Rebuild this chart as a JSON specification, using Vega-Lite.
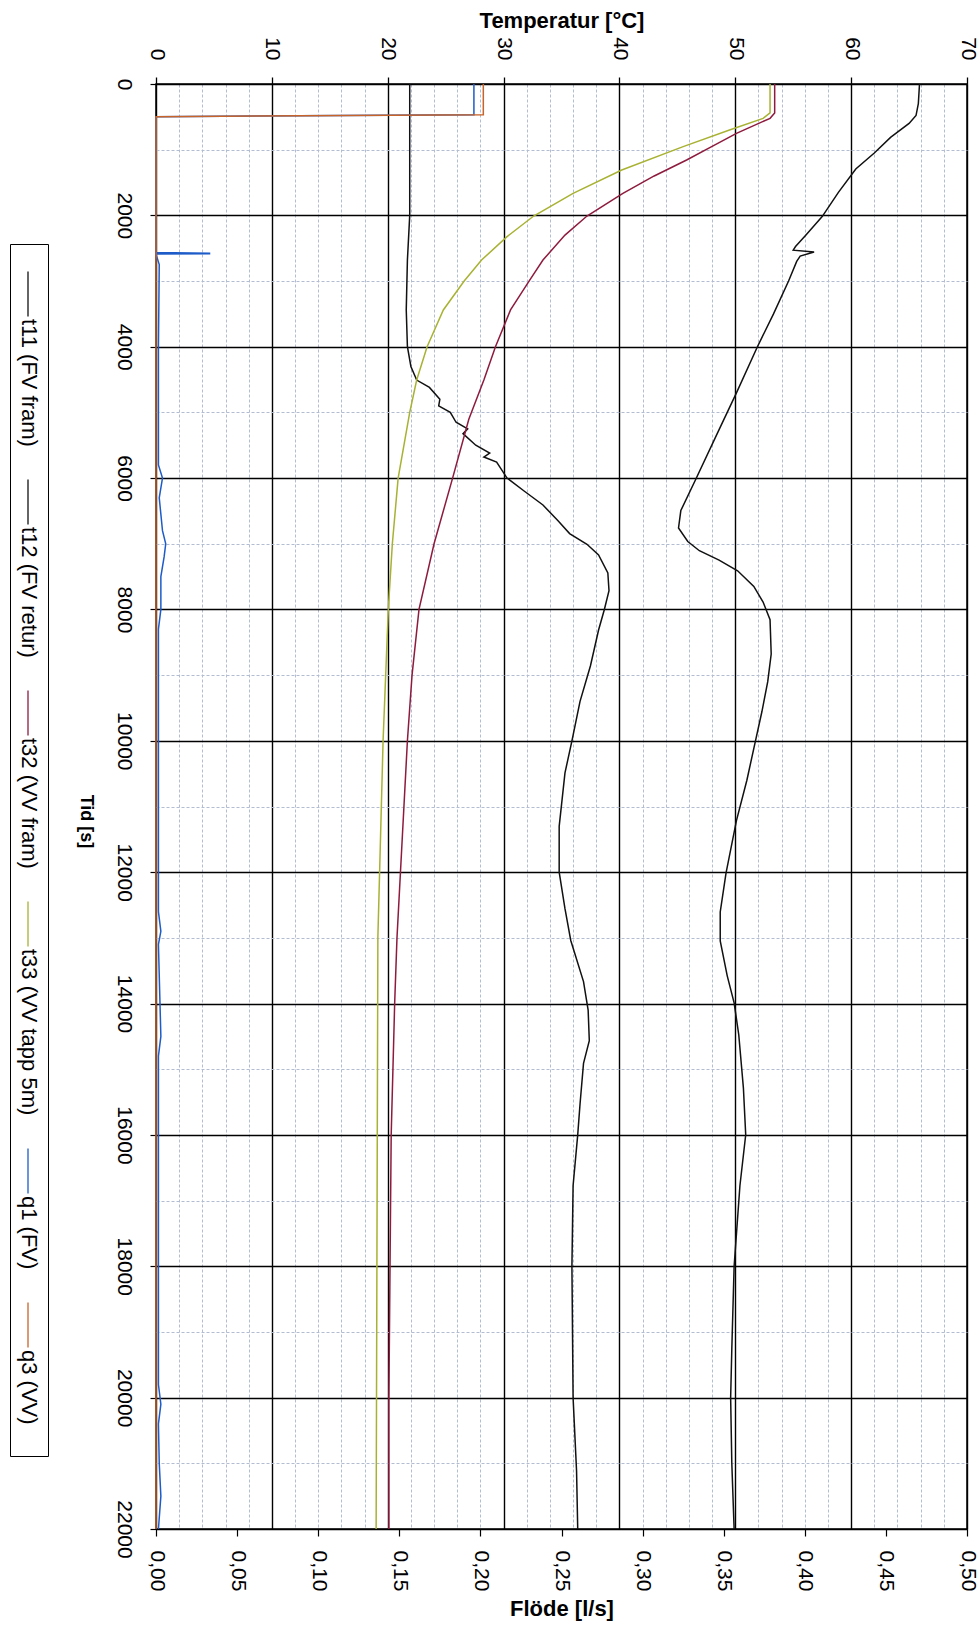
{
  "$schema": "https://vega.github.io/schema/vega-lite/v6.json",
  "width": 811,
  "height": 1445,
  "autosize": {"type": "none"},
  "padding": {"left": 156, "top": 84, "right": 13, "bottom": 97},
  "background": "white",
  "config": {
    "font": "Liberation Sans",
    "view": {"stroke": "black", "strokeWidth": 1.5},
    "axis": {"domain": false, "labelFont": "Liberation Sans", "titleFont": "Liberation Sans", "labelColor": "black", "titleColor": "black", "tickColor": "black", "labelOverlap": false, "labelBound": false, "labelFlush": false}
  },
  "datasets": {
    "temp": [
      {"k":"t11 (FV fram)","t":0,"v":65.9},{"k":"t11 (FV fram)","t":300,"v":65.8},{"k":"t11 (FV fram)","t":480,"v":65.6},{"k":"t11 (FV fram)","t":600,"v":65.0},{"k":"t11 (FV fram)","t":813,"v":63.4},{"k":"t11 (FV fram)","t":1050,"v":62.0},{"k":"t11 (FV fram)","t":1294,"v":60.4},{"k":"t11 (FV fram)","t":1650,"v":58.9},{"k":"t11 (FV fram)","t":2019,"v":57.5},{"k":"t11 (FV fram)","t":2300,"v":56.1},{"k":"t11 (FV fram)","t":2474,"v":55.2},{"k":"t11 (FV fram)","t":2530,"v":55.0},{"k":"t11 (FV fram)","t":2558,"v":56.8},{"k":"t11 (FV fram)","t":2620,"v":55.6},{"k":"t11 (FV fram)","t":2700,"v":55.3},{"k":"t11 (FV fram)","t":3000,"v":54.6},{"k":"t11 (FV fram)","t":3500,"v":53.3},{"k":"t11 (FV fram)","t":4004,"v":51.9},{"k":"t11 (FV fram)","t":4703,"v":50.1},{"k":"t11 (FV fram)","t":5300,"v":48.5},{"k":"t11 (FV fram)","t":6014,"v":46.6},{"k":"t11 (FV fram)","t":6494,"v":45.3},{"k":"t11 (FV fram)","t":6760,"v":45.1},{"k":"t11 (FV fram)","t":6965,"v":45.9},{"k":"t11 (FV fram)","t":7106,"v":46.9},{"k":"t11 (FV fram)","t":7250,"v":48.6},{"k":"t11 (FV fram)","t":7412,"v":50.2},{"k":"t11 (FV fram)","t":7650,"v":51.6},{"k":"t11 (FV fram)","t":7887,"v":52.4},{"k":"t11 (FV fram)","t":8155,"v":53.0},{"k":"t11 (FV fram)","t":8678,"v":53.1},{"k":"t11 (FV fram)","t":9100,"v":52.8},{"k":"t11 (FV fram)","t":9554,"v":52.3},{"k":"t11 (FV fram)","t":10034,"v":51.7},{"k":"t11 (FV fram)","t":10600,"v":51.0},{"k":"t11 (FV fram)","t":11214,"v":50.1},{"k":"t11 (FV fram)","t":12013,"v":49.2},{"k":"t11 (FV fram)","t":12606,"v":48.7},{"k":"t11 (FV fram)","t":13045,"v":48.7},{"k":"t11 (FV fram)","t":13574,"v":49.3},{"k":"t11 (FV fram)","t":13990,"v":49.9},{"k":"t11 (FV fram)","t":14475,"v":50.3},{"k":"t11 (FV fram)","t":15283,"v":50.7},{"k":"t11 (FV fram)","t":15997,"v":50.9},{"k":"t11 (FV fram)","t":16774,"v":50.4},{"k":"t11 (FV fram)","t":17999,"v":49.9},{"k":"t11 (FV fram)","t":19260,"v":49.7},{"k":"t11 (FV fram)","t":20006,"v":49.6},{"k":"t11 (FV fram)","t":21000,"v":49.7},{"k":"t11 (FV fram)","t":22000,"v":49.9},
      {"k":"t12 (FV retur)","t":0,"v":21.9},{"k":"t12 (FV retur)","t":1000,"v":21.9},{"k":"t12 (FV retur)","t":2000,"v":21.9},{"k":"t12 (FV retur)","t":2680,"v":21.7},{"k":"t12 (FV retur)","t":3440,"v":21.6},{"k":"t12 (FV retur)","t":4000,"v":21.7},{"k":"t12 (FV retur)","t":4300,"v":22.0},{"k":"t12 (FV retur)","t":4507,"v":22.5},{"k":"t12 (FV retur)","t":4620,"v":23.6},{"k":"t12 (FV retur)","t":4800,"v":24.5},{"k":"t12 (FV retur)","t":4900,"v":24.4},{"k":"t12 (FV retur)","t":5000,"v":25.4},{"k":"t12 (FV retur)","t":5150,"v":25.9},{"k":"t12 (FV retur)","t":5250,"v":26.9},{"k":"t12 (FV retur)","t":5323,"v":26.5},{"k":"t12 (FV retur)","t":5500,"v":27.6},{"k":"t12 (FV retur)","t":5620,"v":28.8},{"k":"t12 (FV retur)","t":5680,"v":28.3},{"k":"t12 (FV retur)","t":5755,"v":29.4},{"k":"t12 (FV retur)","t":6000,"v":30.3},{"k":"t12 (FV retur)","t":6200,"v":31.8},{"k":"t12 (FV retur)","t":6410,"v":33.4},{"k":"t12 (FV retur)","t":6650,"v":34.7},{"k":"t12 (FV retur)","t":6845,"v":35.7},{"k":"t12 (FV retur)","t":7008,"v":37.2},{"k":"t12 (FV retur)","t":7171,"v":38.2},{"k":"t12 (FV retur)","t":7443,"v":39.0},{"k":"t12 (FV retur)","t":7715,"v":39.1},{"k":"t12 (FV retur)","t":8000,"v":38.7},{"k":"t12 (FV retur)","t":8313,"v":38.2},{"k":"t12 (FV retur)","t":8857,"v":37.5},{"k":"t12 (FV retur)","t":9400,"v":36.6},{"k":"t12 (FV retur)","t":10000,"v":35.9},{"k":"t12 (FV retur)","t":10488,"v":35.3},{"k":"t12 (FV retur)","t":11303,"v":34.8},{"k":"t12 (FV retur)","t":12000,"v":34.8},{"k":"t12 (FV retur)","t":12555,"v":35.3},{"k":"t12 (FV retur)","t":13040,"v":35.8},{"k":"t12 (FV retur)","t":13666,"v":36.9},{"k":"t12 (FV retur)","t":14100,"v":37.3},{"k":"t12 (FV retur)","t":14567,"v":37.4},{"k":"t12 (FV retur)","t":14910,"v":36.9},{"k":"t12 (FV retur)","t":15530,"v":36.6},{"k":"t12 (FV retur)","t":16000,"v":36.4},{"k":"t12 (FV retur)","t":16774,"v":36.0},{"k":"t12 (FV retur)","t":18000,"v":35.9},{"k":"t12 (FV retur)","t":20000,"v":36.0},{"k":"t12 (FV retur)","t":21117,"v":36.3},{"k":"t12 (FV retur)","t":22000,"v":36.4},
      {"k":"t32 (VV fram)","t":0,"v":53.4},{"k":"t32 (VV fram)","t":440,"v":53.4},{"k":"t32 (VV fram)","t":523,"v":53.0},{"k":"t32 (VV fram)","t":751,"v":50.1},{"k":"t32 (VV fram)","t":950,"v":48.0},{"k":"t32 (VV fram)","t":1157,"v":45.8},{"k":"t32 (VV fram)","t":1400,"v":43.0},{"k":"t32 (VV fram)","t":1665,"v":40.3},{"k":"t32 (VV fram)","t":2010,"v":37.2},{"k":"t32 (VV fram)","t":2300,"v":35.3},{"k":"t32 (VV fram)","t":2680,"v":33.4},{"k":"t32 (VV fram)","t":3000,"v":32.2},{"k":"t32 (VV fram)","t":3440,"v":30.6},{"k":"t32 (VV fram)","t":4000,"v":29.3},{"k":"t32 (VV fram)","t":4507,"v":28.3},{"k":"t32 (VV fram)","t":5105,"v":27.0},{"k":"t32 (VV fram)","t":6000,"v":25.6},{"k":"t32 (VV fram)","t":7000,"v":24.0},{"k":"t32 (VV fram)","t":8000,"v":22.7},{"k":"t32 (VV fram)","t":9000,"v":22.1},{"k":"t32 (VV fram)","t":10000,"v":21.7},{"k":"t32 (VV fram)","t":11000,"v":21.4},{"k":"t32 (VV fram)","t":12000,"v":21.1},{"k":"t32 (VV fram)","t":13000,"v":20.8},{"k":"t32 (VV fram)","t":14000,"v":20.6},{"k":"t32 (VV fram)","t":16000,"v":20.3},{"k":"t32 (VV fram)","t":18000,"v":20.2},{"k":"t32 (VV fram)","t":20000,"v":20.1},{"k":"t32 (VV fram)","t":22000,"v":20.1},
      {"k":"t33 (VV tapp 5m)","t":0,"v":53.0},{"k":"t33 (VV tapp 5m)","t":440,"v":53.0},{"k":"t33 (VV tapp 5m)","t":523,"v":52.4},{"k":"t33 (VV tapp 5m)","t":700,"v":49.5},{"k":"t33 (VV tapp 5m)","t":954,"v":45.5},{"k":"t33 (VV tapp 5m)","t":1309,"v":40.2},{"k":"t33 (VV tapp 5m)","t":1665,"v":36.0},{"k":"t33 (VV tapp 5m)","t":2010,"v":32.6},{"k":"t33 (VV tapp 5m)","t":2324,"v":30.3},{"k":"t33 (VV tapp 5m)","t":2680,"v":28.1},{"k":"t33 (VV tapp 5m)","t":3000,"v":26.6},{"k":"t33 (VV tapp 5m)","t":3440,"v":24.8},{"k":"t33 (VV tapp 5m)","t":4000,"v":23.4},{"k":"t33 (VV tapp 5m)","t":4507,"v":22.5},{"k":"t33 (VV tapp 5m)","t":5000,"v":21.9},{"k":"t33 (VV tapp 5m)","t":6000,"v":20.9},{"k":"t33 (VV tapp 5m)","t":7000,"v":20.4},{"k":"t33 (VV tapp 5m)","t":8000,"v":20.05},{"k":"t33 (VV tapp 5m)","t":10000,"v":19.6},{"k":"t33 (VV tapp 5m)","t":12000,"v":19.3},{"k":"t33 (VV tapp 5m)","t":13000,"v":19.15},{"k":"t33 (VV tapp 5m)","t":16000,"v":19.1},{"k":"t33 (VV tapp 5m)","t":22000,"v":19.0}
    ],
    "flow": [
      {"k":"q1 (FV)","t":0,"v":0.196},{"k":"q1 (FV)","t":470,"v":0.196},{"k":"q1 (FV)","t":497,"v":0},{"k":"q1 (FV)","t":2565,"v":0},{"k":"q1 (FV)","t":2575,"v":0.033},{"k":"q1 (FV)","t":2583,"v":0.033},{"k":"q1 (FV)","t":2590,"v":0},{"k":"q1 (FV)","t":2750,"v":0.002},{"k":"q1 (FV)","t":4000,"v":0.0015},{"k":"q1 (FV)","t":5800,"v":0.0015},{"k":"q1 (FV)","t":6000,"v":0.004},{"k":"q1 (FV)","t":6300,"v":0.002},{"k":"q1 (FV)","t":6800,"v":0.004},{"k":"q1 (FV)","t":7000,"v":0.006},{"k":"q1 (FV)","t":7200,"v":0.005},{"k":"q1 (FV)","t":7500,"v":0.003},{"k":"q1 (FV)","t":8000,"v":0.003},{"k":"q1 (FV)","t":8300,"v":0.0015},{"k":"q1 (FV)","t":12600,"v":0.0015},{"k":"q1 (FV)","t":12900,"v":0.003},{"k":"q1 (FV)","t":13100,"v":0.0015},{"k":"q1 (FV)","t":14500,"v":0.003},{"k":"q1 (FV)","t":14800,"v":0.0015},{"k":"q1 (FV)","t":19800,"v":0.0015},{"k":"q1 (FV)","t":20100,"v":0.003},{"k":"q1 (FV)","t":20400,"v":0.0015},{"k":"q1 (FV)","t":21000,"v":0.002},{"k":"q1 (FV)","t":21500,"v":0.003},{"k":"q1 (FV)","t":22000,"v":0.0015},
      {"k":"q3 (VV)","t":0,"v":0.2018},{"k":"q3 (VV)","t":470,"v":0.2018},{"k":"q3 (VV)","t":497,"v":0},{"k":"q3 (VV)","t":22000,"v":0}
    ]
  },
  "layer": [
    {
      "data": {"name": "temp"},
      "mark": {"type": "line", "strokeWidth": 1.5, "clip": false},
      "encoding": {
        "x": {
          "field": "v", "type": "quantitative",
          "scale": {"domain": [0, 70], "nice": false, "zero": false},
          "axis": {
            "orient": "top",
            "values": [0,2,4,6,8,10,12,14,16,18,20,22,24,26,28,30,32,34,36,38,40,42,44,46,48,50,52,54,56,58,60,62,64,66,68,70],
            "title": "Temperatur [°C]", "titleFontSize": 22, "titleFontWeight": "bold", "titlePadding": 4,
            "labelAngle": 90, "labelAlign": "right", "labelBaseline": "middle", "labelFontSize": 21, "labelPadding": 17,
            "labelExpr": "datum.value % 10 === 0 ? datum.label : ''",
            "tickSize": 7, "tickWidth": 1.3,
            "tickOpacity": {"condition": {"test": "datum.value % 10 === 0", "value": 1}, "value": 0},
            "grid": true,
            "gridColor": {"condition": {"test": "datum.value % 10 === 0", "value": "#000000"}, "value": "#b3bdd2"},
            "gridWidth": {"condition": {"test": "datum.value % 10 === 0", "value": 1.4}, "value": 1},
            "gridDash": {"condition": {"test": "datum.value % 10 === 0", "value": []}, "value": [3, 2]},
            "gridOpacity": 1
          }
        },
        "y": {
          "field": "t", "type": "quantitative",
          "scale": {"domain": [0, 22000], "reverse": true, "nice": false, "zero": false},
          "axis": {
            "orient": "left",
            "values": [0,500,1000,1500,2000,2500,3000,3500,4000,4500,5000,5500,6000,6500,7000,7500,8000,8500,9000,9500,10000,10500,11000,11500,12000,12500,13000,13500,14000,14500,15000,15500,16000,16500,17000,17500,18000,18500,19000,19500,20000,20500,21000,21500,22000],
            "format": "d",
            "title": "Tid [s]", "titleFontSize": 18, "titleFontWeight": "bold", "titleAngle": 90, "titleBaseline": "top", "titlePadding": 19, "titleY": 737,
            "labelAngle": 90, "labelAlign": "center", "labelBaseline": "top", "labelFontSize": 21, "labelPadding": 16,
            "labelExpr": "datum.value % 2000 === 0 ? datum.label : ''",
            "tickSize": 6, "tickWidth": 1.2,
            "tickOpacity": {"condition": {"test": "datum.value % 2000 === 0", "value": 1}, "value": 0},
            "grid": true,
            "gridColor": {"condition": {"test": "datum.value % 2000 === 0", "value": "#000000"}, "value": "#b3bdd2"},
            "gridWidth": {"condition": {"test": "datum.value % 2000 === 0", "value": 1.4}, "value": 1},
            "gridDash": {"condition": {"test": "datum.value % 2000 === 0", "value": []}, "value": [3, 2]},
            "gridOpacity": 1
          }
        },
        "color": {
          "field": "k", "type": "nominal",
          "scale": {
            "domain": ["t11 (FV fram)", "t12 (FV retur)", "t32 (VV fram)", "t33 (VV tapp 5m)", "q1 (FV)", "q3 (VV)"],
            "range": ["#111111", "#111111", "#8e1b3e", "#a8b232", "#1d5cc8", "#c8642a"]
          },
          "legend": {
            "orient": "none", "legendX": -146, "legendY": 160,
            "direction": "vertical",
            "title": ".", "titleOrient": "bottom", "titleFontSize": 10, "titlePadding": 14, "titleOpacity": 0,
            "strokeColor": "#000000", "fillColor": "#ffffff", "padding": 7, "rowPadding": 12,
            "symbolType": "M0,3.8L0,21.8", "symbolSize": 25, "symbolStrokeWidth": 1.3,
            "labelFont": "Liberation Sans", "labelFontSize": 22, "labelColor": "#000000", "labelLimit": 0,
            "labelAlign": "left", "labelBaseline": "middle", "labelOffset": -10,
            "encode": {"labels": {"update": {"angle": {"value": 90}, "dx": {"value": 57}}}}
          }
        },
        "order": {"field": "t", "type": "quantitative"}
      }
    },
    {
      "data": {"name": "flow"},
      "mark": {"type": "line", "strokeWidth": 1.5, "clip": false},
      "encoding": {
        "x": {
          "field": "v", "type": "quantitative",
          "scale": {"domain": [0, 0.5], "nice": false, "zero": false},
          "axis": {
            "orient": "bottom",
            "values": [0, 0.05, 0.1, 0.15, 0.2, 0.25, 0.3, 0.35, 0.4, 0.45, 0.5],
            "title": "Flöde [l/s]", "titleFontSize": 22, "titleFontWeight": "bold", "titlePadding": 8,
            "labelAngle": 90, "labelAlign": "left", "labelBaseline": "middle", "labelFontSize": 21, "labelPadding": 14,
            "labelExpr": "replace(format(datum.value, '.2f'), '.', ',')",
            "tickSize": 7, "tickWidth": 1.2, "grid": false
          }
        },
        "y": {"field": "t", "type": "quantitative", "scale": {"domain": [0, 22000], "reverse": true, "nice": false, "zero": false}},
        "color": {
          "field": "k", "type": "nominal",
          "scale": {
            "domain": ["t11 (FV fram)", "t12 (FV retur)", "t32 (VV fram)", "t33 (VV tapp 5m)", "q1 (FV)", "q3 (VV)"],
            "range": ["#111111", "#111111", "#8e1b3e", "#a8b232", "#1d5cc8", "#c8642a"]
          }
        },
        "order": {"field": "t", "type": "quantitative"}
      }
    }
  ],
  "resolve": {"scale": {"x": "independent"}}
}
